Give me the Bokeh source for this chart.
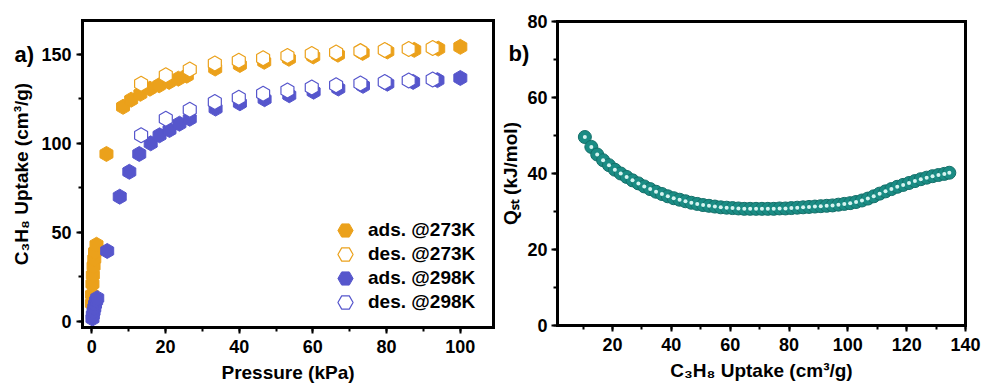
from bokeh.plotting import figure
from bokeh.models import (Range1d, SingleIntervalTicker, FixedTicker, LinearAxis,
                          Legend, LegendItem, Label)
from bokeh.layouts import row
from bokeh.embed import file_html
from bokeh.resources import INLINE
import math

# ---- (a) C3H8 isotherms ----
p273_ads = [0.05, 0.1, 0.2, 0.3, 0.5, 0.7, 0.9, 1.3, 4.0, 8.5, 10.7, 13.2, 15.8, 18.3,
            21.0, 23.5, 25.8, 33.5, 40.2, 46.8, 53.5, 60.1, 66.8, 73.5, 80.2, 87.5, 94.0, 100.0]
q273_ads = [10, 15, 21, 26, 31, 35, 39, 43, 94, 120.5, 124.5, 127.8, 130.7, 132.6,
            134.5, 136.3, 138.0, 142.0, 144.0, 145.8, 147.5, 148.8, 149.8, 150.8, 151.6, 152.5, 153.2, 154.2]

p273_des = [13.4, 20.1, 26.6, 33.4, 39.9, 46.5, 53.1, 59.7, 66.3, 72.9, 79.5, 86.0, 92.5]
q273_des = [133.5, 138.2, 141.5, 144.8, 146.4, 147.8, 149.1, 150.2, 151.0, 151.8, 152.4, 153.0, 153.5]

p298_ads = [0.2, 0.3, 0.5, 0.7, 0.9, 1.2, 1.5, 4.2, 7.6, 10.2, 12.9, 16.0, 18.4, 21.1,
            23.8, 26.6, 33.6, 40.2, 46.9, 53.6, 60.2, 66.9, 73.6, 80.2, 87.2, 93.8, 100.0]
q298_ads = [1.5, 3.5, 5.5, 7.5, 9.5, 11.5, 13.0, 39.5, 70.0, 84.0, 94.0, 100.0, 104.5, 107.5,
            111.0, 113.8, 119.5, 122.5, 124.8, 127.0, 129.0, 130.8, 132.3, 133.5, 134.5, 135.5, 136.7]

p298_des = [13.4, 20.1, 26.6, 33.4, 39.9, 46.5, 53.1, 59.7, 66.3, 72.9, 79.5, 86.0, 92.5]
q298_des = [104.5, 113.8, 118.9, 123.2, 125.6, 127.9, 129.7, 131.4, 132.6, 133.6, 134.5, 135.3, 135.9]

legend_labels = ["ads. @273K", "des. @273K", "ads. @298K", "des. @298K"]

# ---- (b) isosteric heat of adsorption ----
uptake = [10.6, 12.8, 14.8, 16.8, 18.8, 20.8, 22.8, 24.8, 26.8, 28.8, 30.8, 32.8, 34.8, 36.8,
          38.8, 40.8, 42.8, 44.8, 46.8, 48.8, 50.8, 52.8, 54.8, 56.8, 58.8, 60.8, 62.8, 64.8,
          66.8, 68.8, 70.8, 72.8, 74.8, 76.8, 78.8, 80.8, 82.8, 84.8, 86.8, 88.8, 90.8, 92.8,
          94.8, 96.8, 98.8, 100.8, 102.8, 104.8, 106.8, 108.8, 110.8, 112.8, 114.8, 116.8,
          118.8, 120.8, 122.8, 124.8, 126.8, 128.8, 130.8, 132.8, 134.5]
qst = [49.6, 47.0, 45.0, 43.5, 42.2, 41.0, 40.0, 39.1, 38.2, 37.4, 36.6, 35.9, 35.2, 34.6,
       34.0, 33.5, 33.1, 32.7, 32.3, 32.0, 31.7, 31.5, 31.3, 31.1, 31.0, 30.9, 30.8, 30.7,
       30.7, 30.7, 30.7, 30.7, 30.7, 30.8, 30.8, 30.9, 31.0, 31.1, 31.2, 31.3, 31.4, 31.5,
       31.6, 31.8, 32.0, 32.2, 32.5, 32.9, 33.4, 34.0, 34.7, 35.3, 35.9, 36.5,
       37.0, 37.5, 38.0, 38.5, 38.9, 39.3, 39.6, 39.9, 40.2]

ORANGE = "#EBA11B"
BLUE = "#5656CC"
TEAL = "#1A8C84"
FONT = "Liberation Sans"
H = 383


def boxed_figure(width, xlim, ylim, box):
    """Figure whose plotting area fills the canvas; the axes are pinned to the
    data limits so that the drawn box sits at pixel box (left, right, top, bottom)."""
    left, right, top, bottom = box
    kx = (xlim[1] - xlim[0]) / (right - left)
    ky = (ylim[1] - ylim[0]) / (bottom - top)
    p = figure(width=width, height=H, output_backend="svg", toolbar_location=None,
               x_range=Range1d(xlim[0] - left * kx, xlim[1] + (width - right) * kx),
               y_range=Range1d(ylim[0] - (H - bottom) * ky, ylim[1] + top * ky),
               x_axis_location=None, y_axis_location=None, min_border=0)
    p.grid.visible = False
    p.outline_line_color = None
    return p


def add_axes(p, xlim, ylim, xint, yint, xlabel, ylabel, y_label_standoff=6, y_tick_standoff=5):
    common = dict(axis_line_width=3, axis_line_color="black", axis_line_cap="square",
                  major_tick_line_width=2, minor_tick_line_width=2,
                  major_tick_in=0, major_tick_out=6, minor_tick_in=0, minor_tick_out=4,
                  major_label_text_font=FONT, major_label_text_font_style="bold",
                  major_label_text_font_size="18px", major_label_text_color="black",
                  axis_label_text_font=FONT, axis_label_text_font_style="bold",
                  axis_label_text_font_size="19px", axis_label_text_color="black")
    xa = LinearAxis(fixed_location=ylim[0], bounds=xlim,
                    ticker=SingleIntervalTicker(interval=xint, num_minor_ticks=2),
                    axis_label=xlabel, major_label_standoff=6, axis_label_standoff=6, **common)
    ya = LinearAxis(fixed_location=xlim[0], bounds=ylim,
                    ticker=SingleIntervalTicker(interval=yint, num_minor_ticks=2),
                    axis_label=ylabel, major_label_standoff=y_tick_standoff,
                    axis_label_standoff=y_label_standoff, **common)
    p.add_layout(xa, "below")
    p.add_layout(ya, "left")
    # plain top and right edges of the box
    for loc, bnd, side in [(ylim[1], xlim, "above"), (xlim[1], ylim, "right")]:
        p.add_layout(LinearAxis(fixed_location=loc, bounds=bnd,
                                ticker=FixedTicker(ticks=[], minor_ticks=[]),
                                axis_line_width=3, axis_line_color="black",
                                axis_line_cap="square", major_tick_out=0,
                                minor_tick_out=0), side)


# panel (a)
xa_lim, ya_lim = (-2.5, 109), (-3.5, 169)
pa = boxed_figure(500, xa_lim, ya_lim, (82, 493, 20, 327))
add_axes(pa, xa_lim, ya_lim, 20, 50, "Pressure (kPa)", "C\u2083H\u2088 Uptake (cm\u00b3/g)")

hex_angle = math.pi / 6
r1 = pa.scatter(p273_ads, q273_ads, marker="hex", size=15, angle=hex_angle,
                fill_color=ORANGE, line_color=ORANGE, line_width=1)
r2 = pa.scatter(p273_des, q273_des, marker="hex", size=15, angle=hex_angle,
                fill_color="white", line_color=ORANGE, line_width=1.2)
r3 = pa.scatter(p298_ads, q298_ads, marker="hex", size=15, angle=hex_angle,
                fill_color=BLUE, line_color=BLUE, line_width=1)
r4 = pa.scatter(p298_des, q298_des, marker="hex", size=15, angle=hex_angle,
                fill_color="white", line_color=BLUE, line_width=1.2)

# one legend box per entry so that the rows can sit closer than the swatch box
for i, (lab, r) in enumerate(zip(legend_labels, [r1, r2, r3, r4])):
    pa.add_layout(Legend(items=[LegendItem(label=lab, renderers=[r])],
                         location=(326, 134 - 24 * i), glyph_width=38, glyph_height=38,
                         label_standoff=4, padding=0, margin=0, border_line_color=None,
                         background_fill_alpha=0, label_text_font=FONT,
                         label_text_font_style="bold", label_text_font_size="19px",
                         label_text_color="black"))

pa.add_layout(Label(x=14, y=H - 54, x_units="screen", y_units="screen", text="a)",
                    text_font=FONT, text_font_style="bold", text_font_size="22px",
                    text_color="black", text_baseline="middle", text_align="left"))

# panel (b)
xb_lim, yb_lim = (1.3, 140), (0, 80)
pb = boxed_figure(483, xb_lim, yb_lim, (57, 465, 21, 325))
add_axes(pb, xb_lim, yb_lim, 20, 20, "C\u2083H\u2088 Uptake (cm\u00b3/g)", "Q\u209b\u209c (kJ/mol)",
         y_label_standoff=3, y_tick_standoff=4)

pb.scatter(uptake, qst, marker="circle", size=13, fill_color=TEAL,
           line_color="#146F69", line_width=1)
pb.scatter(uptake, qst, marker="circle", size=4, fill_color="#D6F4F1",
           line_color=None)

pb.add_layout(Label(x=8, y=H - 53, x_units="screen", y_units="screen", text="b)",
                    text_font=FONT, text_font_style="bold", text_font_size="22px",
                    text_color="black", text_baseline="middle", text_align="left"))

layout = row(pa, pb)
open("out.html", "w").write(file_html(layout, INLINE))
